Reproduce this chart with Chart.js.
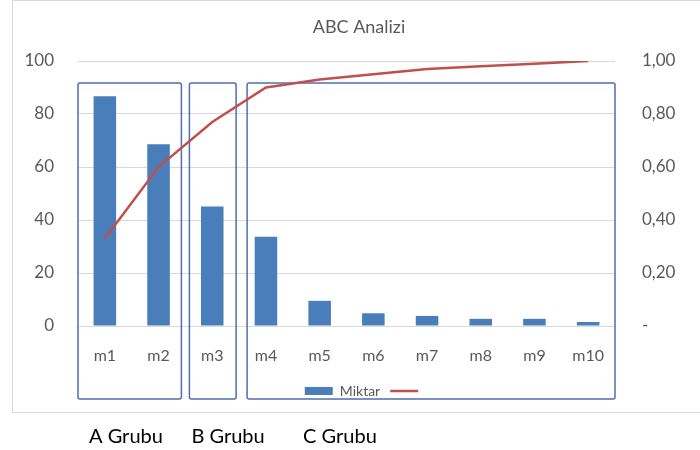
<!DOCTYPE html>
<html>
<head>
<meta charset="utf-8">
<script src="https://cdn.jsdelivr.net/npm/chart.js@4.4.1/dist/chart.umd.min.js"></script>
<style>
  html, body { margin: 0; padding: 0; background: #fff; }
  canvas { display: block; }
</style>
</head>
<body>
<canvas id="chart" width="700" height="450"></canvas>
<script>
// values
const labels = ["m1", "m2", "m3", "m4", "m5", "m6", "m7", "m8", "m9", "m10"];
const miktar = [86.7, 68.6, 45.1, 33.7, 9.5, 4.8, 3.8, 2.7, 2.7, 1.5];
const kumulatif = [0.33, 0.60, 0.77, 0.90, 0.93, 0.95, 0.97, 0.98, 0.99, 1.00];
const groupNames = ["A Grubu", "B Grubu", "C Grubu"];
const groupFrom = [0, 2, 3];
const groupTo = [1, 2, 9];
const title = "ABC Analizi";

const FONT = "Lato, 'Open Sans', sans-serif";
const GREY = "#595959";

// outer frame, title, group boxes and group names under the chart
const groupPlugin = {
    id: "groups",
    afterLayout(chart, args, opts) {
        chart.legend.left += opts.legendShift;
        chart.legend.right += opts.legendShift;
    },
    beforeDraw(chart, args, opts) {
        const ctx = chart.ctx;
        ctx.save();
        ctx.strokeStyle = "#d9d9d9";
        ctx.lineWidth = 1;
        ctx.strokeRect(12.5, 0.5, 700, 412);
        ctx.fillStyle = GREY;
        ctx.font = "18px " + FONT;
        ctx.textAlign = "center";
        ctx.textBaseline = "middle";
        ctx.fillText(title, opts.titleX, opts.titleY);
        ctx.restore();
    },
    beforeDatasetsDraw(chart, args, opts) {
        const { ctx, chartArea: a, scales: { x } } = chart;
        const step = (a.right - a.left) / labels.length;
        ctx.save();
        ctx.strokeStyle = "#4f6fae";
        ctx.lineWidth = 1.5;
        groupNames.forEach((name, i) => {
            const l = x.getPixelForValue(groupFrom[i]) - step / 2 + opts.padL[i];
            const r = x.getPixelForValue(groupTo[i]) + step / 2 - opts.padR[i];
            const t = a.top + opts.top, b = a.bottom + opts.below;
            ctx.beginPath();
            ctx.roundRect(l, t, r - l, b - t, 2);
            ctx.stroke();
        });
        ctx.restore();
    },
    afterDraw(chart, args, opts) {
        const { ctx, chartArea: a, scales: { x } } = chart;
        const step = (a.right - a.left) / labels.length;
        ctx.save();
        ctx.fillStyle = "#000";
        ctx.font = "20px " + FONT;
        ctx.textBaseline = "middle";
        groupNames.forEach((name, i) => {
            const l = x.getPixelForValue(groupFrom[i]) - step / 2;
            ctx.fillText(name, l + opts.labelOffsets[i], opts.labelY);
        });
        ctx.restore();
    }
};

new Chart(document.querySelector("#chart"), {
    type: "bar",
    data: {
        labels: labels,
        datasets: [
            { label: "Miktar", data: miktar, backgroundColor: "#4a7ebb", borderWidth: 0,
              barPercentage: 0.42, categoryPercentage: 1, yAxisID: "y", order: 2, pointStyle: "rect" },
            { type: "line", label: "", data: kumulatif, borderColor: "#c0504d", backgroundColor: "#c0504d",
              borderWidth: 2.5, pointRadius: 0, tension: 0, yAxisID: "y1", order: 1, pointStyle: "line" }
        ]
    },
    options: {
        responsive: false,
        animation: false,
        layout: { padding: { left: 0, right: 0, top: 61, bottom: 42 } },
        plugins: {
            title: { display: false },
            legend: {
                position: "bottom",
                labels: { usePointStyle: true, pointStyleWidth: 28, boxHeight: 8, color: GREY,
                          font: { family: FONT, size: 14 }, padding: 10,
                          sort: (a, b) => a.datasetIndex - b.datasetIndex }
            },
            tooltip: { enabled: false },
            groups: { padL: [0, 4, 8], padR: [4, 3, 0], top: 22, below: 73,
                      labelOffsets: [11, 6, 64], labelY: 437, titleX: 359, titleY: 27, legendShift: 15 }
        },
        scales: {
            x: {
                grid: { display: false },
                border: { display: false },
                ticks: { color: GREY, font: { family: FONT, size: 16 }, padding: 12 },
                afterFit(s) { s.height = 48; }
            },
            y: {
                position: "left", min: 0, max: 100,
                grid: { color: "#d9d9d9", drawTicks: false },
                border: { display: false },
                ticks: { stepSize: 20, color: GREY, font: { family: FONT, size: 17 }, padding: 24 },
                afterFit(s) { s.width = 78; }
            },
            y1: {
                position: "right", min: 0, max: 1,
                grid: { display: false },
                border: { display: false },
                ticks: { stepSize: 0.2, color: GREY, font: { family: FONT, size: 17 }, padding: 19,
                         callback: v => v === 0 ? "-" : v.toFixed(2).replace(".", ",") },
                afterFit(s) { s.width = 85; }
            }
        }
    },
    plugins: [groupPlugin]
});
</script>
</body>
</html>
